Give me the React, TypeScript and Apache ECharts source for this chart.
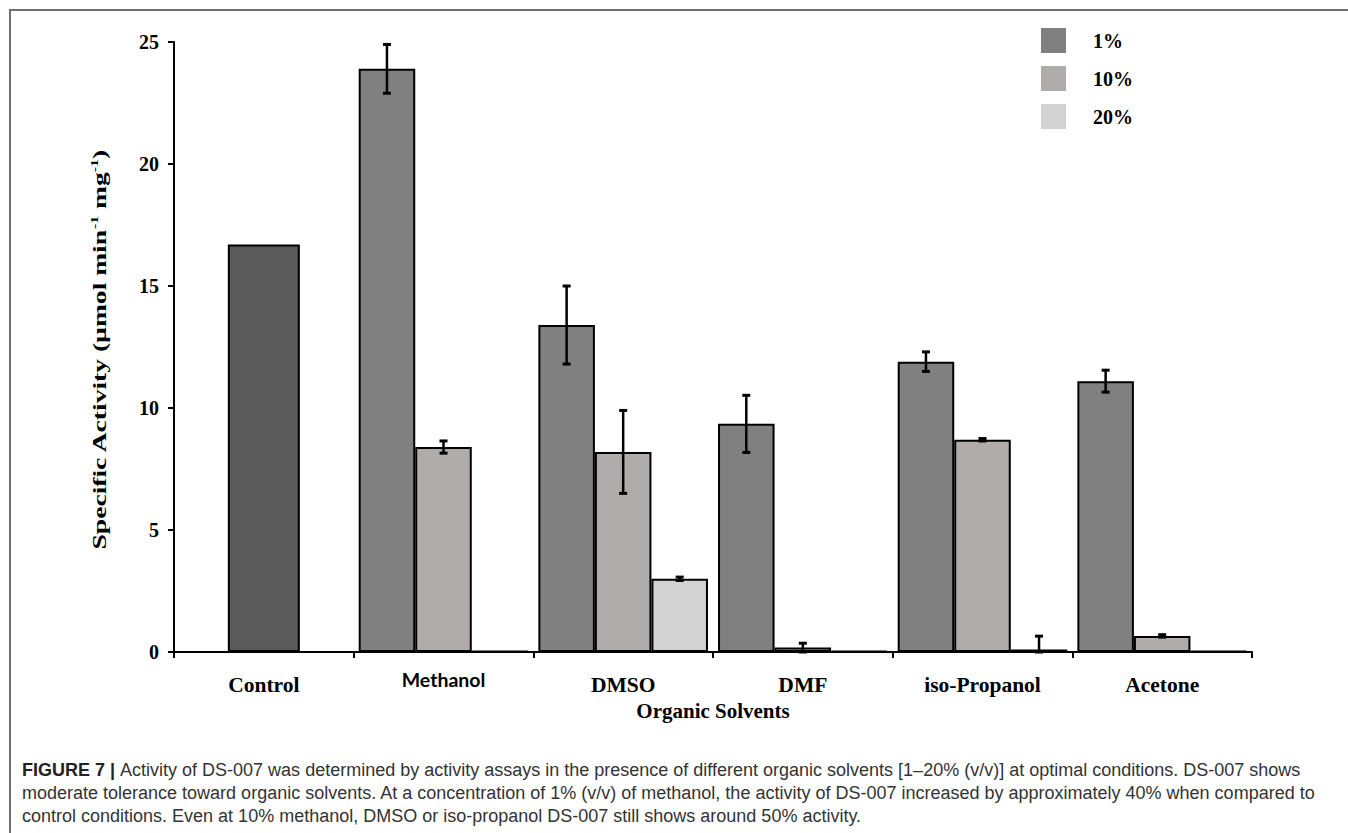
import React, { useEffect, useRef } from "react";
import * as echarts from "echarts";

const categories = ["Control", "Methanol", "DMSO", "DMF", "iso-Propanol", "Acetone"];
const controlValues: (number | string)[] = [16.7, "-", "-", "-", "-", "-"];
const pct1Values: (number | string)[] = ["-", 23.9, 13.4, 9.35, 11.9, 11.1];
const pct1Errors = [0, 1.0, 1.6, 1.17, 0.4, 0.45];
const pct10Values: (number | string)[] = ["-", 8.4, 8.2, 0.18, 8.7, 0.66];
const pct10Errors = [0, 0.25, 1.7, 0.18, 0.05, 0.05];
const pct20Values: (number | string)[] = ["-", 0, 3.0, 0, 0.1, 0];
const pct20Errors = [0, 0, 0.07, 0, 0.55, 0];
const yTicks = { min: 0, max: 25, interval: 5 };
const seriesNames = ["1%", "10%", "20%"];
const yAxisTitle = ["Specific Activity (\u00b5mol min", "-1", " mg", "-1", ")"];
const xAxisTitle = "Organic Solvents";

const captionLines = [
  "Activity of DS-007 was determined by activity assays in the presence of different organic solvents [1\u201320% (v/v)] at optimal conditions. DS-007 shows",
  "moderate tolerance toward organic solvents. At a concentration of 1% (v/v) of methanol, the activity of DS-007 increased by approximately 40% when compared to",
  "control conditions. Even at 10% methanol, DMSO or iso-propanol DS-007 still shows around 50% activity.",
];

const SERIF = "'Liberation Serif', 'Times New Roman', serif";
const GAP_RATIO = 0.056;

export default function App() {
  const ref = useRef<HTMLDivElement>(null);

  useEffect(() => {
    if (!ref.current) return;
    const chart = echarts.init(ref.current, undefined, { renderer: "svg" });

    const groups = [
      { values: pct1Values, errors: pct1Errors },
      { values: pct10Values, errors: pct10Errors },
      { values: pct20Values, errors: pct20Errors },
    ];
    const errData: number[][] = [];
    groups.forEach((g, si) => {
      g.values.forEach((v, ci) => {
        if (typeof v === "number" && g.errors[ci] > 0) errData.push([ci, v, g.errors[ci], si]);
      });
    });

    const colors = ["#808080", "#b0acab", "#d3d2d2"];

    const option: any = {
      animation: false,
      grid: { left: 174, top: 42, width: 1078, height: 610 },
      legend: {
        data: seriesNames,
        orient: "vertical",
        left: 1036,
        top: 23,
        itemWidth: 25,
        itemHeight: 25,
        itemGap: 13,
        icon: "rect",
        itemStyle: { borderWidth: 0 },
        textStyle: { fontFamily: SERIF, fontWeight: "bold", fontSize: 20, color: "#000", padding: [0, 0, 0, 22] },
      },
      graphic: [
        {
          type: "text",
          x: 100,
          y: 350,
          rotation: Math.PI / 2,
          scaleX: 1.45,
          style: {
            text:
              "{t|" + yAxisTitle[0] + "}{u|" + yAxisTitle[1] + "}{t|" + yAxisTitle[2] + "}{u|" + yAxisTitle[3] + "}{t|" + yAxisTitle[4] + "}",
            align: "center",
            verticalAlign: "middle",
            rich: {
              t: { fontFamily: SERIF, fontWeight: "bold", fontSize: 19, fill: "#000", lineHeight: 22 },
              u: { fontFamily: SERIF, fontWeight: "bold", fontSize: 11, fill: "#000", verticalAlign: "top", lineHeight: 22 },
            },
          },
        },
      ],
      xAxis: [
        {
          type: "category",
          data: categories,
          axisLine: { lineStyle: { color: "#000", width: 2 } },
          axisTick: { show: true, length: 6, lineStyle: { color: "#000", width: 2 } },
          axisLabel: {
            margin: 17,
            formatter: (v: string) => (v === "Methanol" ? "{m|" + v + "}" : "{s|" + v + "}"),
            rich: {
              s: { fontFamily: SERIF, fontWeight: "bold", fontSize: 21.5, color: "#000", padding: [5, 0, 0, 0] },
              m: { fontFamily: "Lato, 'Open Sans', sans-serif", fontWeight: "bold", fontSize: 19.5, color: "#000" },
            },
          },
          name: xAxisTitle,
          nameLocation: "middle",
          nameGap: 47,
          nameTextStyle: { fontFamily: SERIF, fontWeight: "bold", fontSize: 21, color: "#000" },
        },
        {
          type: "category",
          data: categories,
          show: false,
          gridIndex: 0,
        },
      ],
      yAxis: {
        type: "value",
        min: yTicks.min,
        max: yTicks.max,
        interval: yTicks.interval,
        splitLine: { show: false },
        axisLine: { show: true, lineStyle: { color: "#000", width: 2 } },
        axisTick: { show: true, length: 6, lineStyle: { color: "#000", width: 2 } },
        axisLabel: { margin: 15, fontFamily: SERIF, fontWeight: "bold", fontSize: 20, color: "#000" },
      },
      series: [
        {
          name: "Control",
          type: "bar",
          xAxisIndex: 1,
          data: controlValues,
          barWidth: 72,
          itemStyle: { color: "#5a5a5a", borderColor: "#000", borderWidth: 2 },
        },
        ...groups.map((g, i) => ({
          name: seriesNames[i],
          type: "bar",
          xAxisIndex: 0,
          data: g.values,
          barGap: "0%",
          barCategoryGap: GAP_RATIO * 100 + "%",
          barMinHeight: 1,
          itemStyle: { color: colors[i], borderColor: "#000", borderWidth: 2 },
        })),
        {
          type: "custom",
          xAxisIndex: 0,
          data: errData,
          z: 10,
          renderItem: (params: any, api: any) => {
            const ci = api.value(0);
            const v = api.value(1);
            const e = api.value(2);
            const si = api.value(3);
            const band = api.size([1, 0])[0];
            const bw = (band * (1 - GAP_RATIO)) / 3;
            const c = api.coord([ci, 0]);
            const x = c[0] + (si - 1) * bw;
            const yTop = api.coord([ci, v + e])[1];
            const yBot = api.coord([ci, Math.max(0, v - e)])[1];
            const cap = 4;
            const st = { stroke: "#000", lineWidth: 2.5 };
            const capSt = { stroke: "#000", lineWidth: 3 };
            return {
              type: "group",
              children: [
                { type: "line", shape: { x1: x, y1: yTop, x2: x, y2: yBot }, style: st },
                { type: "line", shape: { x1: x - cap, y1: yTop, x2: x + cap, y2: yTop }, style: capSt },
                { type: "line", shape: { x1: x - cap, y1: yBot, x2: x + cap, y2: yBot }, style: capSt },
              ],
            };
          },
        },
      ],
    };

    chart.setOption(option);
    return () => chart.dispose();
  }, []);

  return (
    <div style={{ position: "fixed", left: 0, top: 0, width: 1348, height: 833, background: "#fff", overflow: "hidden" }}>
      <div
        style={{
          position: "absolute",
          left: 9,
          top: 9,
          width: 1400,
          height: 900,
          borderTop: "2px solid #6e6e6e",
          borderLeft: "2px solid #6e6e6e",
          boxSizing: "border-box",
        }}
      />
      <div ref={ref} style={{ position: "absolute", left: 0, top: 0, width: 1348, height: 750 }} />
      <div
        style={{
          position: "absolute",
          left: 22,
          top: 759,
          fontFamily: "'Liberation Sans', Arial, sans-serif",
          fontSize: 18,
          lineHeight: "23px",
          color: "#333",
          whiteSpace: "nowrap",
        }}
      >
        {captionLines.map((l, i) => (
          <div key={i}>
            {i === 0 ? <b style={{ color: "#222" }}>FIGURE 7 | </b> : null}
            {l}
          </div>
        ))}
      </div>
    </div>
  );
}
